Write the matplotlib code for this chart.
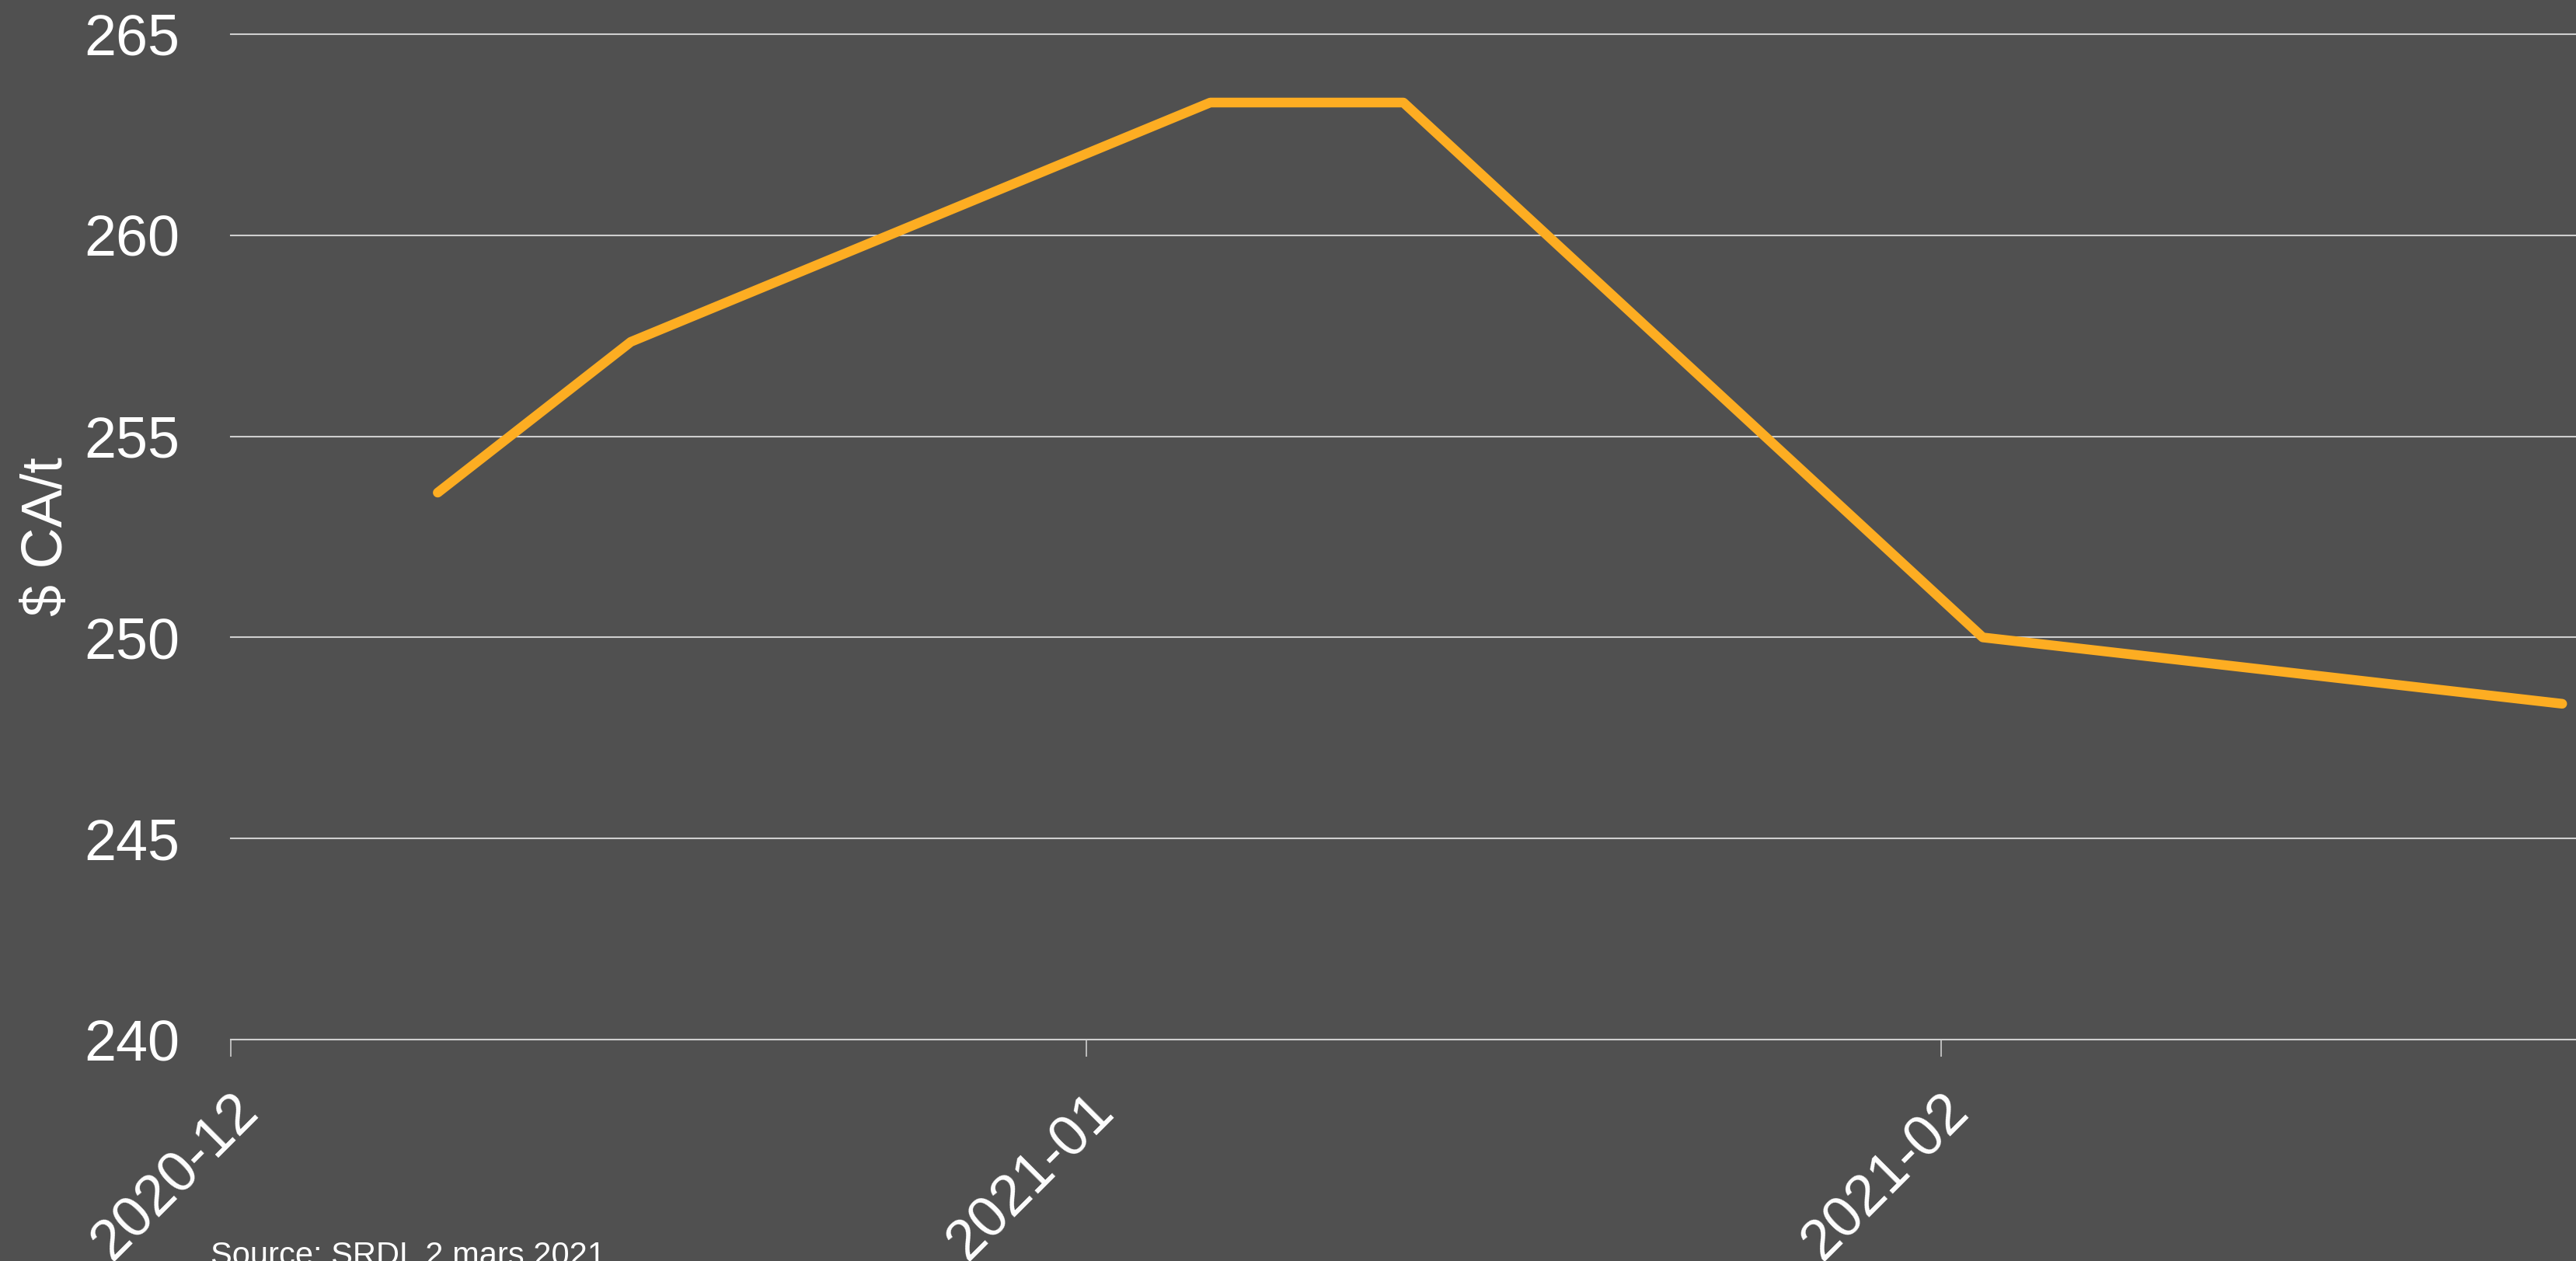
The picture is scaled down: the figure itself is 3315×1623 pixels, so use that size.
import pandas as pd
import matplotlib.pyplot as plt
import matplotlib.dates as mdates

plt.rcParams['font.family'] = ['Liberation Sans', 'DejaVu Sans']

# --- Données ---
dates = pd.to_datetime([
    "2020-12-08 12:00", "2020-12-15 12:00", "2021-01-05 12:00",
    "2021-01-12 12:00", "2021-02-02 12:00", "2021-02-23 12:00",
])
prix = [253.6, 257.35, 263.3, 263.3, 250.0, 248.35]

ylabel = "$ CA/t"
source = "Source: SRDL 2 mars 2021"

fond = "#505050"
orange = "#FDAD22"

# --- Figure ---
fig = plt.figure(figsize=(33.15, 16.23), dpi=100, facecolor=fond)
ax = fig.add_axes([0.0896, 0.1756, 0.9104, 0.7973])
ax.set_facecolor(fond)

ax.plot(dates, prix, color=orange, lw=9, solid_capstyle='round', zorder=3)

ax.set_ylim(240, 265)
ax.set_yticks([240, 245, 250, 255, 260, 265])
ax.set_xlim(pd.Timestamp("2020-12-01"), pd.Timestamp("2021-02-24"))
ax.xaxis.set_major_locator(mdates.MonthLocator())
ax.xaxis.set_major_formatter(mdates.DateFormatter("%Y-%m"))

ax.grid(axis='y', color='#cfcfcf', lw=1.5)
ax.grid(axis='x', visible=False)
for gl in ax.get_ygridlines():
    gl.set_clip_on(False)
for s in ax.spines.values():
    s.set_visible(False)

ax.tick_params(axis='y', length=0, pad=47, labelsize=53, labelcolor='white')
ax.tick_params(axis='x', length=16, width=1.2, color='#cfcfcf', pad=25,
               labelsize=53, labelcolor='white')
for lab in ax.get_xticklabels():
    lab.set_rotation(45)
    lab.set_ha('right')
    lab.set_va('top')
    lab.set_rotation_mode('anchor')

ax.set_ylabel(ylabel, fontsize=53, color='white', va='center')
ax.yaxis.set_label_coords(-0.0785, 0.5)

fig.text(0.0818, -0.003, source, fontsize=30, color='white', va='baseline')

fig.savefig("out.png", dpi=100, facecolor=fond)
